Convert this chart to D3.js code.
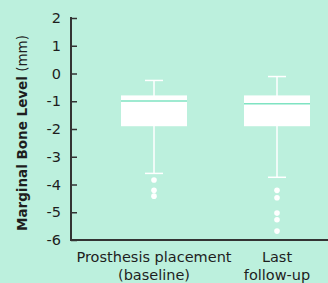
<!DOCTYPE html>
<html>
<head>
<meta charset="utf-8">
<script src="https://cdn.jsdelivr.net/npm/d3@7"></script>
<style>
  html, body { margin: 0; padding: 0; background: #bcf0dd; }
  svg { display: block; }
  text { font-family: "DejaVu Sans", sans-serif; fill: #1e1e1e; }
</style>
</head>
<body>
<svg id="chart" width="328" height="283"></svg>
<script>
// categories and box stats (mm)
var categories = ["Prosthesis placement|(baseline)", "Last|follow-up"];
var whiskerHigh = [-0.25, -0.11];
var q1 = [-0.79, -0.79];
var medians = [-0.99, -1.09];
var q3 = [-1.90, -1.90];
var whiskerLow = [-3.60, -3.74];
var outliers = [
  [-3.84, -4.21, -4.42],
  [-4.21, -4.48, -5.03, -5.27, -5.68]
];
var yTicks = [2, 1, 0, -1, -2, -3, -4, -5, -6];

var svg = d3.select("#chart"),
    width = +svg.attr("width"),
    height = +svg.attr("height");

var axisX = 71, plotTop = 18, plotBottom = 240;

var y = d3.scaleLinear().domain([-6, 2]).range([plotBottom, plotTop]);
var x = d3.scalePoint().domain(categories).range([154, 277]);

var boxW = 66, capW = 18;

// y axis
var yAxis = svg.append("g")
  .attr("transform", "translate(" + axisX + ",0)")
  .call(d3.axisLeft(y).tickValues(yTicks).tickSize(-6).tickPadding(10).tickFormat(function(d) { return String(d); }));
yAxis.select(".domain").remove();
yAxis.selectAll(".tick line").attr("stroke", "#333").attr("stroke-width", 1.5);
yAxis.selectAll("text").style("font-size", "14.5px").style("fill", "#1e1e1e")
  .style("font-family", "'DejaVu Sans', sans-serif");

svg.append("line")
  .attr("x1", axisX).attr("x2", axisX)
  .attr("y1", plotTop - 1).attr("y2", plotBottom + 1)
  .attr("stroke", "#333").attr("stroke-width", 2);

svg.append("line")
  .attr("x1", axisX - 1).attr("x2", width)
  .attr("y1", plotBottom).attr("y2", plotBottom)
  .attr("stroke", "#333").attr("stroke-width", 2);

// y title
var title = svg.append("text")
  .attr("transform", "translate(27," + ((plotTop + plotBottom) / 2 + 4) + ") rotate(-90)")
  .attr("text-anchor", "middle")
  .style("font-size", "13.5px");
title.append("tspan").style("font-weight", "bold").text("Marginal Bone Level");
title.append("tspan").text(" (mm)");

// x labels
categories.forEach(function(c) {
  var lines = c.split("|");
  var t = svg.append("text")
    .attr("text-anchor", "middle")
    .style("font-size", "14.5px");
  lines.forEach(function(l, i) {
    t.append("tspan").attr("x", x(c)).attr("y", 262 + i * 18).text(l);
  });
});

// boxes
var boxes = svg.append("g").selectAll("g")
  .data(categories)
  .enter().append("g");

boxes.append("line")
  .attr("x1", function(d) { return x(d); }).attr("x2", function(d) { return x(d); })
  .attr("y1", function(d, i) { return y(whiskerHigh[i]); })
  .attr("y2", function(d, i) { return y(whiskerLow[i]); })
  .attr("stroke", "#fff").attr("stroke-width", 1.5);

[whiskerHigh, whiskerLow].forEach(function(arr) {
  boxes.append("line")
    .attr("x1", function(d) { return x(d) - capW / 2; })
    .attr("x2", function(d) { return x(d) + capW / 2; })
    .attr("y1", function(d, i) { return y(arr[i]); })
    .attr("y2", function(d, i) { return y(arr[i]); })
    .attr("stroke", "#fff").attr("stroke-width", 1.5);
});

boxes.append("rect")
  .attr("x", function(d) { return x(d) - boxW / 2; })
  .attr("width", boxW)
  .attr("y", function(d, i) { return y(q1[i]); })
  .attr("height", function(d, i) { return y(q3[i]) - y(q1[i]); })
  .attr("fill", "#fff");

boxes.append("line")
  .attr("x1", function(d) { return x(d) - boxW / 2; })
  .attr("x2", function(d) { return x(d) + boxW / 2; })
  .attr("y1", function(d, i) { return y(medians[i]); })
  .attr("y2", function(d, i) { return y(medians[i]); })
  .attr("stroke", "#7fe3c2").attr("stroke-width", 1.5);

boxes.each(function(d, i) {
  d3.select(this).selectAll("circle")
    .data(outliers[i])
    .enter().append("circle")
    .attr("cx", x(d))
    .attr("cy", function(v) { return y(v); })
    .attr("r", 2.8)
    .attr("fill", "#fff");
});
</script>
</body>
</html>
